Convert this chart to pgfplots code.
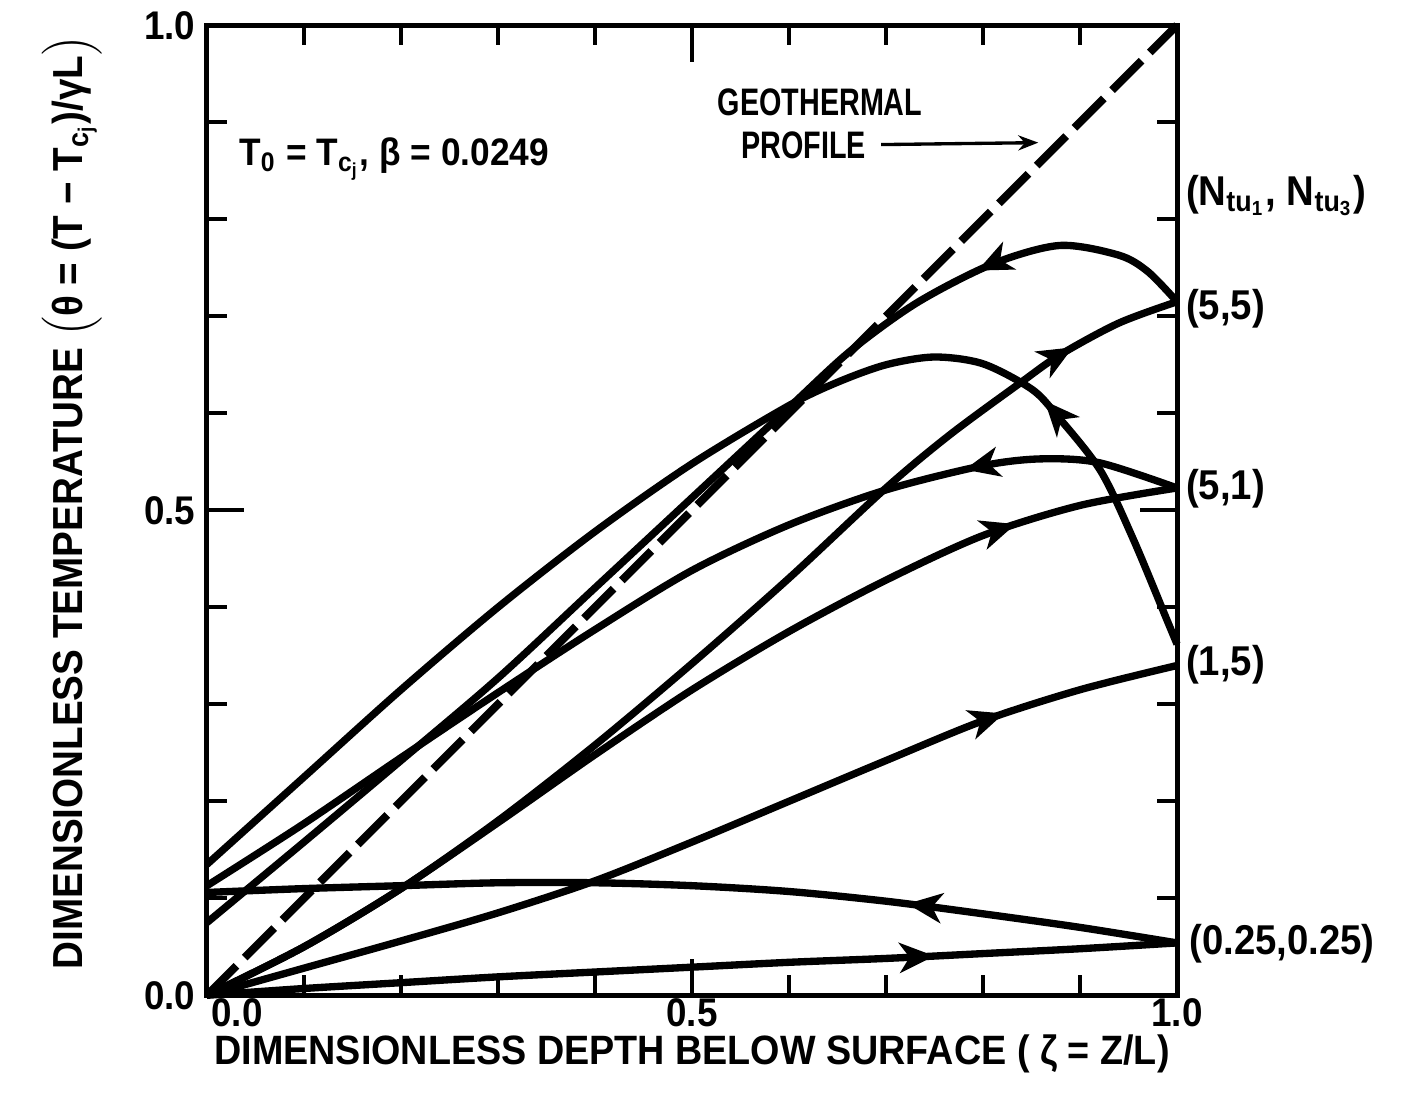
\documentclass[border=0pt]{standalone}
\usepackage{fontspec}
\setmainfont{Liberation Sans}[FakeStretch=0.92]
\newfontfamily\condfont{Liberation Sans}[FakeStretch=0.75]
\usepackage{pgfplots}
\pgfplotsset{compat=1.18}
\usetikzlibrary{arrows.meta,decorations.markings}
\tikzset{
  curve/.style={line width=2.2pt, smooth, black},
  fwd/.style={postaction={decorate}, decoration={markings, mark=at position #1 with {\arrow{Stealth[length=10.5pt,width=9pt,inset=3pt]}}}},
  bwd/.style={postaction={decorate}, decoration={markings, mark=at position #1 with {\arrowreversed{Stealth[length=10.5pt,width=9pt,inset=3pt]}}}},
}
\begin{document}
\begin{tikzpicture}
\begin{axis}[
  scale only axis, width=291pt, height=291pt,
  xmin=0, xmax=1, ymin=0, ymax=1,
  clip=false,
  axis line style={line width=1.5pt},
  xtick={0,0.5,1}, xticklabels={\hspace*{18pt}0.0,0.5,1.0},
  ytick={0,0.5,1}, yticklabels={0.0,0.5,1.0},
  minor xtick={0.1,0.2,0.3,0.4,0.6,0.7,0.8,0.9},
  minor ytick={0.1,0.2,0.3,0.4,0.6,0.7,0.8,0.9},
  tick align=inside, major tick length=11pt, minor tick length=6pt,
  major tick style={line width=1.3pt, black},
  minor tick style={line width=1.3pt, black},
  xtick pos=both, ytick pos=both,
  tick label style={font=\fontsize{12}{14}\selectfont\bfseries},
  xticklabel style={yshift=2.5pt},
]
\addplot[line width=2.4pt, dash pattern=on 12.5pt off 3.5pt] coordinates {(0,0) (1,1)};
% (5,5)
\addplot[curve, bwd=0.82] coordinates {(0,0.075) (0.1,0.158) (0.2,0.242) (0.3,0.327) (0.4,0.42) (0.5,0.513) (0.6,0.606) (0.663,0.664) (0.732,0.714) (0.81,0.754) (0.879,0.773) (0.94,0.763) (0.97,0.746) (1,0.715)};
\addplot[curve, fwd=0.905] coordinates {(0,0) (0.1,0.05) (0.2,0.11) (0.3,0.18) (0.4,0.258) (0.5,0.342) (0.6,0.43) (0.7,0.523) (0.766,0.578) (0.838,0.631) (0.879,0.66) (0.94,0.693) (1,0.715)};
% (5,1)
\addplot[curve, bwd=0.8] coordinates {(0,0.113) (0.1,0.177) (0.2,0.245) (0.3,0.312) (0.4,0.377) (0.5,0.438) (0.6,0.485) (0.7,0.521) (0.8,0.546) (0.86,0.553) (0.92,0.549) (1,0.523)};
\addplot[curve, fwd=0.85] coordinates {(0,0) (0.1,0.05) (0.2,0.11) (0.3,0.178) (0.4,0.248) (0.5,0.315) (0.6,0.375) (0.7,0.428) (0.8,0.474) (0.9,0.505) (1,0.523)};
% (1,5)
\addplot[curve, bwd=0.785] coordinates {(0,0.135) (0.1,0.225) (0.2,0.315) (0.3,0.4) (0.4,0.478) (0.5,0.548) (0.6,0.608) (0.65,0.632) (0.7,0.65) (0.75,0.658) (0.8,0.651) (0.85,0.625) (0.876,0.598) (0.921,0.541) (0.955,0.47) (0.99,0.386) (1,0.362)};
\addplot[curve, fwd=0.825] coordinates {(0,0) (0.1,0.028) (0.2,0.056) (0.3,0.085) (0.4,0.118) (0.5,0.158) (0.6,0.2) (0.7,0.242) (0.8,0.283) (0.9,0.315) (1,0.34)};
% (0.25,0.25)
\addplot[curve, bwd=0.72] coordinates {(0,0.106) (0.1,0.11) (0.2,0.113) (0.3,0.116) (0.4,0.116) (0.5,0.113) (0.6,0.107) (0.7,0.097) (0.8,0.084) (0.9,0.07) (1,0.054)};
\addplot[curve, fwd=0.75] coordinates {(0,0) (0.1,0.007) (0.2,0.013) (0.3,0.019) (0.4,0.024) (0.5,0.029) (0.6,0.034) (0.7,0.038) (0.8,0.043) (0.9,0.048) (1,0.054)};

% labels
\node[rotate=90, anchor=center, font=\fontsize{12.6}{14}\selectfont\bfseries] at (rel axis cs:-0.139,0.508)
  {DIMENSIONLESS TEMPERATURE $\Bigl($θ = (T − T\textsubscript{c\textsubscript{j}})/γL$\Bigr)$};
\node[anchor=center, font=\fontsize{12.3}{14}\selectfont\bfseries] at (rel axis cs:0.5,-0.06)
  {DIMENSIONLESS DEPTH BELOW SURFACE ( ζ = Z/L)};
\node[anchor=center, font=\fontsize{11.5}{14}\selectfont\bfseries] at (axis cs:0.193,0.862)
  {T\textsubscript{0} = T\textsubscript{c\textsubscript{j}}, β = 0.0249};
\node[anchor=center, font=\condfont\fontsize{11.5}{14}\selectfont\bfseries] at (axis cs:0.632,0.921) {GEOTHERMAL};
\node[anchor=center, font=\condfont\fontsize{11.5}{14}\selectfont\bfseries] at (axis cs:0.615,0.876) {PROFILE};
\draw[line width=1pt, -{Stealth[length=6pt,width=4.5pt]}] (axis cs:0.695,0.877) -- (axis cs:0.857,0.879);

\node[anchor=base west, inner sep=0pt, xshift=2.5pt, font=\fontsize{12.5}{14}\selectfont\bfseries] at (axis cs:1,0.814)
  {(N\textsubscript{tu\textsubscript{1}}, N\textsubscript{tu\textsubscript{3}})};
\node[anchor=west, inner sep=0pt, xshift=2.5pt, font=\fontsize{12.5}{14}\selectfont\bfseries] at (axis cs:1,0.708) {(5,5)};
\node[anchor=west, inner sep=0pt, xshift=2.5pt, font=\fontsize{12.5}{14}\selectfont\bfseries] at (axis cs:1,0.522) {(5,1)};
\node[anchor=west, inner sep=0pt, xshift=2.5pt, font=\fontsize{12.5}{14}\selectfont\bfseries] at (axis cs:1,0.341) {(1,5)};
\node[anchor=west, inner sep=0pt, xshift=3.5pt, font=\fontsize{12.5}{14}\selectfont\bfseries] at (axis cs:1,0.053) {(0.25,0.25)};

\path (rel axis cs:-0.2134,-0.1009) rectangle (rel axis cs:1.2309,1.0227);
\end{axis}
\end{tikzpicture}
\end{document}
